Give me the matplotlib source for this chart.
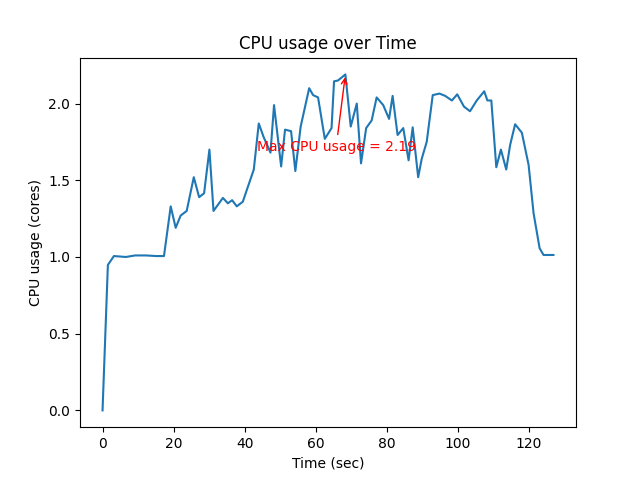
import matplotlib
matplotlib.use('Agg')
import matplotlib.pyplot as plt
import numpy as np

# Sample times (sec) and CPU usage (cores)
time_sec = [0.0, 1.5, 3.2, 6.6, 9.15, 12.25, 15.1, 17.3, 19.2, 20.6,
            22.0, 23.7, 25.7, 27.2, 28.6, 30.1, 31.25, 33.9, 35.3, 36.5,
            37.8, 39.5, 42.6, 44.0, 45.4, 47.3, 48.3, 50.3, 51.4, 53.1,
            54.3, 55.8, 58.2, 59.3, 60.7, 62.6, 64.5, 65.2, 66.3, 68.4,
            69.9, 71.6, 72.8, 74.25, 75.8, 77.2, 79.05, 80.7, 81.7, 83.1,
            84.7, 86.2, 87.35, 88.9, 89.9, 91.3, 93.0, 94.9, 96.5, 98.4,
            99.9, 101.8, 103.5, 105.4, 107.5, 108.4, 109.5, 110.9, 112.2, 113.7,
            114.8, 116.2, 118.1, 120.0, 121.4, 123.1, 124.2, 127.0]
cpu_cores = [0.0, 0.948, 1.006, 1.0, 1.01, 1.01, 1.006, 1.006, 1.33, 1.19,
             1.27, 1.30, 1.52, 1.39, 1.415, 1.70, 1.30, 1.385, 1.35, 1.37,
             1.33, 1.36, 1.57, 1.87, 1.78, 1.68, 1.99, 1.59, 1.83, 1.82,
             1.56, 1.85, 2.10, 2.055, 2.04, 1.77, 1.84, 2.145, 2.15, 2.19,
             1.85, 2.0, 1.61, 1.84, 1.89, 2.04, 1.99, 1.90, 2.05, 1.795,
             1.84, 1.63, 1.845, 1.52, 1.64, 1.75, 2.055, 2.065, 2.05, 2.02,
             2.06, 1.98, 1.95, 2.02, 2.08, 2.02, 2.02, 1.585, 1.70, 1.57,
             1.73, 1.865, 1.81, 1.60, 1.285, 1.057, 1.013, 1.013]

fig, ax = plt.subplots(figsize=(6.4, 4.8), dpi=100)
ax.plot(time_sec, cpu_cores)

# Mark the peak
i_max = int(np.argmax(cpu_cores))
max_x, max_y = time_sec[i_max], cpu_cores[i_max]
ax.annotate('Max CPU usage = %.2f' % max_y, xy=(max_x, max_y),
            xytext=(max_x - 25, max_y - 0.5), color='red',
            arrowprops=dict(arrowstyle='->', color='red'))

ax.set_title('CPU usage over Time')
ax.set_xlabel('Time (sec)')
ax.set_ylabel('CPU usage (cores)')

fig.savefig('out.png')
